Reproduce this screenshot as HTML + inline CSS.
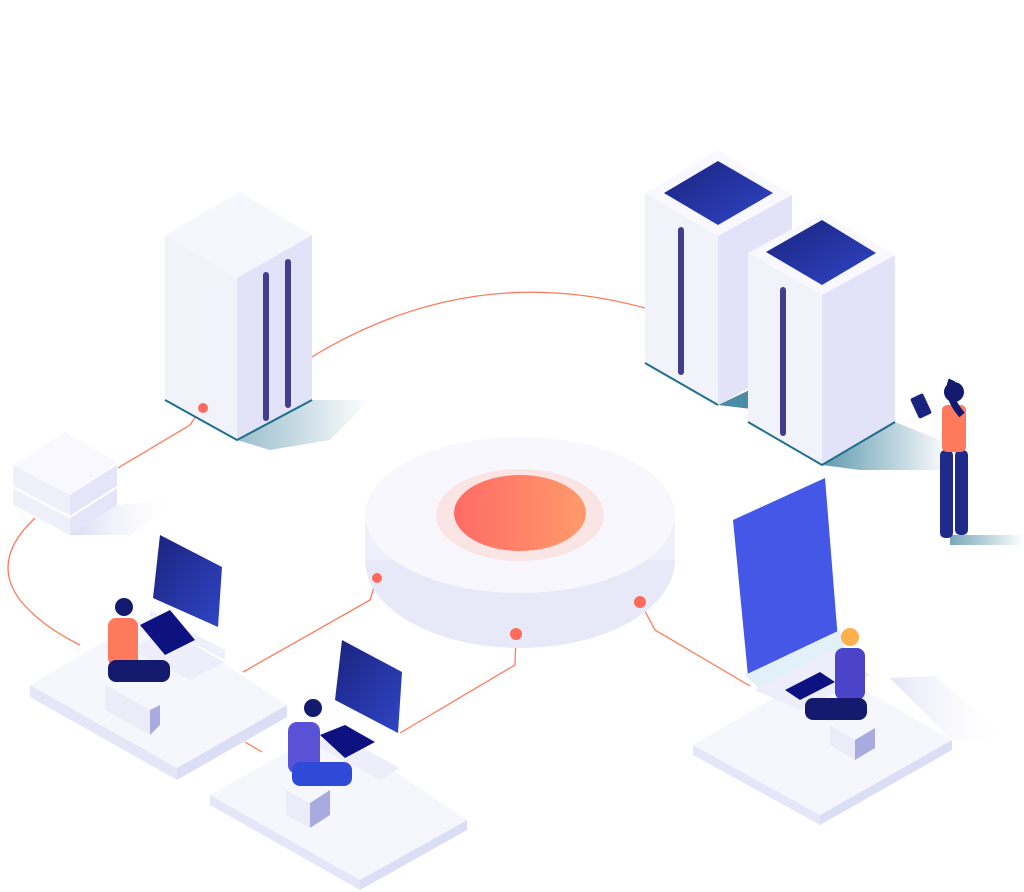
<!DOCTYPE html>
<html><head><meta charset="utf-8"><style>html,body{margin:0;padding:0;background:#fff;width:1024px;height:892px;overflow:hidden}</style></head><body>
<svg width="1024" height="892" viewBox="0 0 1024 892" xmlns="http://www.w3.org/2000/svg">
<defs>
<linearGradient id="teal" x1="0" y1="0" x2="1" y2="0"><stop offset="0" stop-color="#1e6f8e"/><stop offset="1" stop-color="#1e6f8e" stop-opacity="0"/></linearGradient>
<linearGradient id="blue" x1="0" y1="0" x2="1" y2="1"><stop offset="0" stop-color="#1a237e"/><stop offset="1" stop-color="#2f45c5"/></linearGradient>
<linearGradient id="orange" x1="0" y1="0" x2="1" y2="0"><stop offset="0" stop-color="#ff6b66"/><stop offset="1" stop-color="#ff9a6a"/></linearGradient>
<linearGradient id="sh" x1="0" y1="0" x2="1" y2="0"><stop offset="0" stop-color="#d8daf2"/><stop offset="1" stop-color="#fff" stop-opacity="0"/></linearGradient>
</defs>
<g fill="none" stroke="#ff7a5c" stroke-width="1.3">
<path d="M310,358 Q470,260 645,308"/>
<path d="M200,410 L190,425 L118,468"/>
<path d="M35,518 Q-10,560 20,600 Q40,625 80,645"/>
<path d="M377,578 L370,600 L243,672"/>
<path d="M516,634 L515,665 L400,733"/>
<path d="M640,602 L655,630 L750,686"/>
<path d="M245,742 L262,752"/>
</g>
<polygon points="237,440 312,400 370,400 330,440 270,450" fill="url(#teal)" opacity=".45"/>
<polygon points="718,405 760,385 760,410" fill="#1e6f8e" opacity=".8"/>
<polygon points="822,465 895,422 940,440 950,470 860,470" fill="url(#teal)" opacity=".7"/>
<polygon points="950,535 1024,535 1024,545 950,545" fill="url(#teal)" opacity=".6"/>
<polygon points="70,535 117,505 180,500 130,535" fill="url(#sh)"/>
<polygon points="165,235 237,278 237,440 165,400" fill="#f2f2fb"/>
<polygon points="237,278 312,235 312,400 237,440" fill="#e2e3f8"/>
<polygon points="165,235 240,192 312,235 237,278" fill="#f6f6fd"/>
<polyline points="165,400 237,440 312,400" fill="none" stroke="#1e6f8e" stroke-width="2"/>
<line x1="266" y1="275" x2="266" y2="418" stroke="#413e8c" stroke-width="6" stroke-linecap="round"/>
<line x1="288" y1="262" x2="288" y2="405" stroke="#413e8c" stroke-width="6" stroke-linecap="round"/>
<circle cx="203" cy="408" r="5" fill="#ff6b5a"/>
<polygon points="645,193 718,236 718,405 645,363" fill="#f2f2fb"/>
<polygon points="718,236 792,195 792,363 718,405" fill="#e2e3f8"/>
<polygon points="645,193 718,150 792,195 718,236" fill="#f8f8fe"/>
<polygon points="664,193 718,161 773,193 718,225" fill="url(#blue)"/>
<line x1="681" y1="230" x2="681" y2="372" stroke="#413e8c" stroke-width="6" stroke-linecap="round"/>
<polyline points="645,363 718,405" stroke="#1e6f8e" stroke-width="2"/>
<polygon points="748,253 822,295 822,465 748,422" fill="#f2f2fb"/>
<polygon points="822,295 895,255 895,422 822,465" fill="#e2e3f8"/>
<polygon points="748,253 822,213 895,255 822,295" fill="#f8f8fe"/>
<polygon points="766,252 822,220 876,253 822,285" fill="url(#blue)"/>
<line x1="783" y1="290" x2="783" y2="433" stroke="#413e8c" stroke-width="6" stroke-linecap="round"/>
<polyline points="748,422 822,465 895,422" fill="none" stroke="#1e6f8e" stroke-width="2"/>
<rect x="940" y="450" width="13" height="88" rx="5" fill="#1f2b8a"/>
<rect x="955" y="450" width="13" height="85" rx="5" fill="#1f2b8a"/>
<rect x="942" y="405" width="24" height="47" rx="5" fill="#ff7a5c"/>
<circle cx="954" cy="392" r="10" fill="#141a6e"/>
<path d="M952,380 Q945,395 962,415" stroke="#141a6e" stroke-width="7" fill="none"/>
<rect x="914" y="395" width="14" height="22" rx="2" fill="#1a237e" transform="rotate(-25 921 406)"/>
<polygon points="13,465 70,495 70,535 13,505" fill="#f0f0fb"/>
<polygon points="70,495 117,465 117,505 70,535" fill="#e4e5f8"/>
<polygon points="13,465 65,432 117,462 70,495" fill="#f8f8fe"/>
<polyline points="13,487 70,517 117,487" fill="none" stroke="#fff" stroke-width="2"/>
<ellipse cx="520" cy="560" rx="155" ry="88" fill="#e8e9f8"/>
<rect x="365" y="515" width="310" height="45" fill="#eff0fb"/>
<ellipse cx="520" cy="515" rx="155" ry="78" fill="#f7f7fd"/>
<ellipse cx="520" cy="515" rx="84" ry="46" fill="#fbe4e4"/>
<ellipse cx="520" cy="513" rx="66" ry="38" fill="url(#orange)"/>
<circle cx="377" cy="578" r="5" fill="#ff6b5a"/>
<circle cx="516" cy="634" r="6" fill="#ff6b5a"/>
<circle cx="640" cy="602" r="6" fill="#ff6b5a"/>
<polygon points="30,685 177,768 177,780 30,697" fill="#e5e6f8"/>
<polygon points="177,768 287,705 287,717 177,780" fill="#dcdef5"/>
<polygon points="30,685 150,615 287,705 177,768" fill="#f6f6fd"/>
<polygon points="210,795 360,880 360,890 210,805" fill="#e5e6f8"/>
<polygon points="360,880 467,820 467,830 360,890" fill="#dcdef5"/>
<polygon points="210,795 330,728 467,820 360,880" fill="#f6f6fd"/>
<polygon points="693,745 820,815 820,825 693,755" fill="#e5e6f8"/>
<polygon points="820,815 952,740 952,750 820,825" fill="#dcdef5"/>
<polygon points="693,745 825,668 952,740 820,815" fill="#f6f6fd"/>
<polygon points="890,678 935,676 1010,740 952,740" fill="url(#sh)" opacity=".7"/>
<polygon points="150,610 225,650 225,660 150,620" fill="#f0f0fb"/>
<polygon points="130,650 165,630 225,662 190,680" fill="#eeeefa"/>
<polygon points="160,535 222,567 218,627 153,598" fill="url(#blue)"/>
<polygon points="140,625 170,610 195,640 165,655" fill="#0d1280"/>
<polygon points="105,685 150,710 150,735 105,710" fill="#ececf8"/>
<polygon points="150,710 160,705 160,725 150,735" fill="#a9abe0"/>
<rect x="108" y="618" width="30" height="48" rx="8" fill="#ff7a5c"/>
<rect x="108" y="660" width="62" height="22" rx="8" fill="#141a6e"/>
<circle cx="124" cy="607" r="9" fill="#141a6e"/>
<polygon points="315,745 380,780 400,768 335,733" fill="#eeeefa"/>
<polygon points="342,640 402,672 398,733 335,700" fill="url(#blue)"/>
<polygon points="320,735 345,725 375,742 345,758" fill="#0d1280"/>
<polygon points="286,790 310,803 310,828 286,815" fill="#ececf8"/>
<polygon points="310,803 330,790 330,815 310,828" fill="#a9abe0"/>
<rect x="288" y="722" width="32" height="52" rx="9" fill="#5a52d6"/>
<rect x="292" y="762" width="60" height="24" rx="8" fill="#2f4ad6"/>
<circle cx="313" cy="708" r="9" fill="#141a6e"/>
<polygon points="733,520 825,478 838,640 748,676" fill="#4457e6"/>
<polygon points="745,675 840,630 845,650 760,690" fill="#e2f0fa"/>
<polygon points="755,690 830,650 870,675 800,710" fill="#eeeefa"/>
<polygon points="785,690 820,672 835,682 800,700" fill="#0d1280"/>
<polygon points="830,725 855,740 855,760 830,745" fill="#ececf8"/>
<polygon points="855,740 875,728 875,748 855,760" fill="#a9abe0"/>
<rect x="835" y="648" width="30" height="52" rx="8" fill="#4b44c8"/>
<rect x="805" y="698" width="62" height="22" rx="8" fill="#141a6e"/>
<circle cx="850" cy="637" r="9" fill="#ffb04a"/>
</svg>
</body></html>
